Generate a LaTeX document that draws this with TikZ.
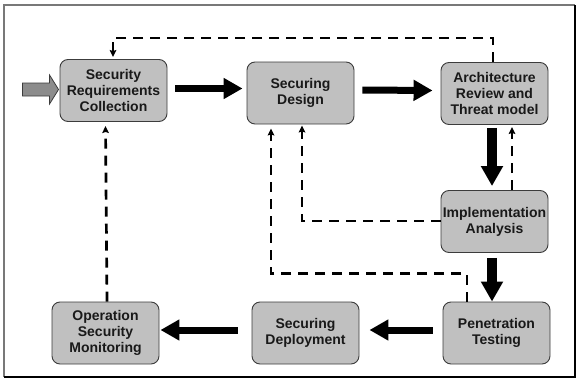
\documentclass[tikz,border=0pt]{standalone}
\usepackage{fontspec}
\setmainfont{Liberation Sans}
\usetikzlibrary{arrows.meta,calc}
\definecolor{boxgray}{RGB}{192,192,192}
\definecolor{edgegray}{RGB}{60,60,60}
\definecolor{ingray}{RGB}{140,140,140}
\definecolor{framegray}{RGB}{120,120,120}
\tikzset{
  stage/.style={draw=edgegray, line width=0.9pt, fill=boxgray, rounded corners=8pt,
    minimum width=107pt, minimum height=62pt, inner sep=1pt, align=center,
    font=\fontsize{14pt}{16pt}\selectfont\bfseries, text=black!90},
  flowh/.style={line width=7pt, -{Triangle[length=19pt,width=20pt]}},
  flowv/.style={line width=10pt, -{Triangle[length=20pt,width=21pt]}},
  feedback/.style={line width=2.7pt, dash pattern=on 10pt off 7pt,
    -{Stealth[length=7pt,width=6.5pt,inset=1pt]}},
  inarrow/.style={draw=edgegray, line width=0.8pt, fill=ingray}
}
\begin{document}
\begin{tikzpicture}[x=1pt,y=-1pt]
\useasboundingbox (0,0) rectangle (578,380);
% page frame
\draw[framegray, line width=1.6pt] (4,377) -- (4,5) -- (575,5);
\draw[black, line width=1.6pt] (575,5) -- (575,377) -- (4,377);

% stages
\node[stage] (src) at (113.5,90.5) {Security\\Requirements\\Collection};
\node[stage] (des) at (300.5,93) {Securing\\Design};
\node[stage] (arc) at (494.5,93.5) {Architecture\\Review and\\Threat model};
\node[stage] (imp) at (494.5,221.5) {Implementation\\Analysis};
\node[stage] (pen) at (496.5,333) {Penetration\\Testing};
\node[stage] (dep) at (305.5,333) {Securing\\Deployment};
\node[stage] (ops) at (105.5,333) {Operation\\Security\\Monitoring};

% entry arrow
\coordinate (entry) at ($(src.west)+(-37,-1)$);
\draw[inarrow] (entry) -- ++(0,-6.5) -- ++(27,0) -- ++(0,-8) -- ($(src.west)+(-1,-1)$)
  -- ($(entry)+(27,14.5)$) -- ++(0,-8) -- ++(-27,0) -- cycle;

% main flow
\draw[flowh] ([xshift=8pt,yshift=2pt]src.east) -- ([xshift=-4pt,yshift=4.5pt]des.west);
\draw[flowh] ([xshift=8pt,yshift=3pt]des.east) -- ([xshift=-8pt,yshift=3pt]arc.west);
\draw[flowv] ([xshift=-2.5pt,yshift=-3pt]arc.south) -- ([xshift=-2.5pt,yshift=4pt]imp.north);
\draw[flowv] ([xshift=-2.5pt,yshift=-5pt]imp.south) -- ([xshift=-4.5pt]pen.north);
\draw[flowh] ([xshift=-10pt,yshift=3pt]pen.west) -- ([xshift=10pt,yshift=3pt]dep.east);
\draw[flowh] ([xshift=-14pt,yshift=3pt]dep.west) -- ([xshift=1pt,yshift=3pt]ops.east);

% feedback loops
\draw[feedback] ([xshift=-1.5pt]arc.north) -- ++(0,-24) -| ([xshift=-0.5pt,yshift=2pt]src.north);
\draw[feedback] ([xshift=17.5pt]imp.north) -- ([xshift=17.5pt,yshift=-2pt]arc.south);
\draw[feedback] ([yshift=0.5pt]imp.west) -| ([xshift=1.5pt,yshift=-1pt]des.south);
\draw[feedback] ([xshift=-29.5pt]pen.north) -- ++(0,-28) -| ([xshift=-29.5pt,yshift=-4pt]des.south);
\draw[feedback] ([xshift=1.5pt]ops.north) -- ([yshift=-4pt]ops.north |- src.south);
\end{tikzpicture}
\end{document}
